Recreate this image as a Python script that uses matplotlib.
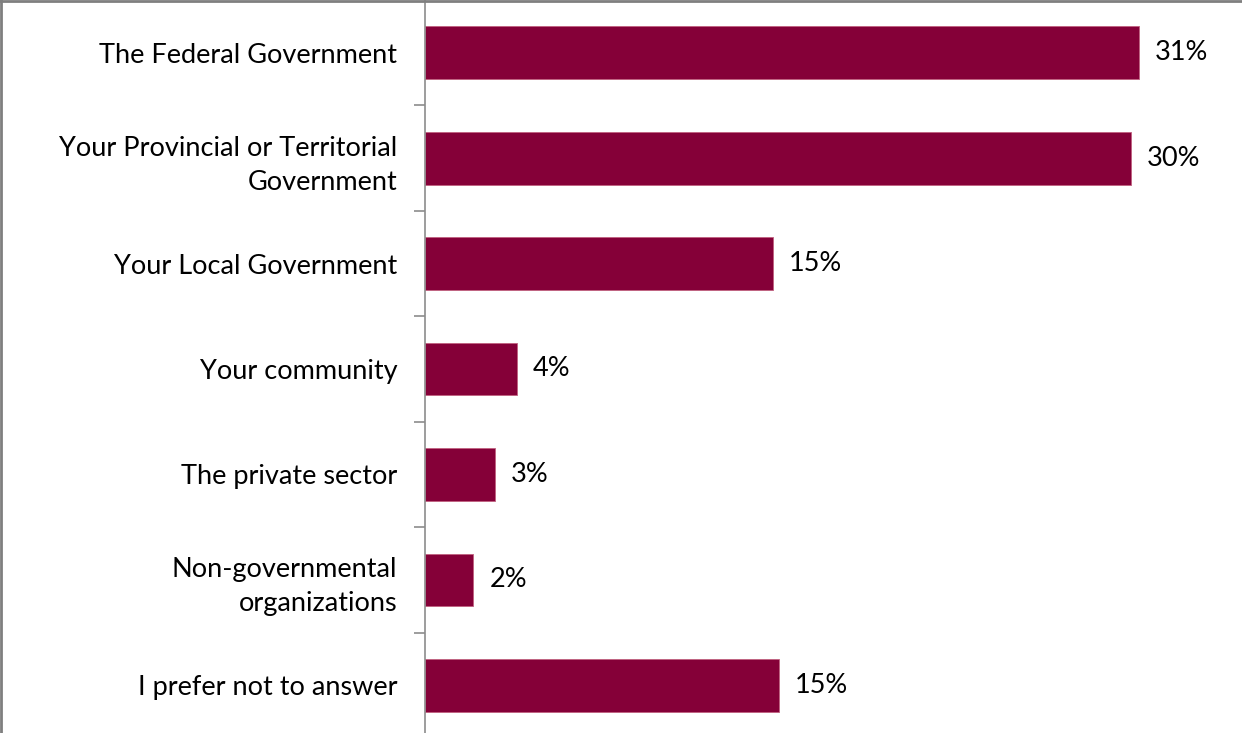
import numpy as np
import matplotlib.pyplot as plt
from matplotlib.lines import Line2D

# data
categories = [
    "The Federal Government",
    "Your Provincial or Territorial\nGovernment",
    "Your Local Government",
    "Your community",
    "The private sector",
    "Non-governmental\norganizations",
    "I prefer not to answer",
]
values = [31.0, 30.65, 15.1, 4.0, 3.05, 2.1, 15.35]
labels = ["31%", "30%", "15%", "4%", "3%", "2%", "15%"]

BAR_COLOR = "#850038"
AXIS_COLOR = "#8c8c8c"
FS = 19.5

plt.rcParams["font.family"] = ["Lato", "DejaVu Sans"]

fig = plt.figure(figsize=(12.42, 7.33), dpi=100)
# plot area runs a few pixels past the bottom edge, as in the original
ax = fig.add_axes([425 / 1242, -5 / 733, 1 - 425 / 1242, 738 / 733])

y = np.arange(len(categories))
ax.barh(y, values, height=0.5, color=BAR_COLOR, edgecolor="#c0607f", linewidth=0.6)

ax.set_ylim(len(categories) - 0.5, -0.5)
ax.set_xlim(0, (1242 - 425) / 23.03)

for yi, v, lab in zip(y, values, labels):
    ax.annotate(lab, (v, yi), xytext=(11.5, 0), textcoords="offset points",
                va="center", ha="left", fontsize=FS, color="black")

# category labels, ticks sit on the boundaries between bars
ax.set_yticks(y)
ax.set_yticklabels(categories, fontsize=FS, ha="right", linespacing=1.45)
ax.tick_params(axis="y", which="major", length=0, pad=20)
ax.set_yticks(np.arange(0.5, len(categories) - 0.5, 1), minor=True)
ax.tick_params(axis="y", which="minor", length=8, width=1.2, color=AXIS_COLOR)

ax.set_xticks([])
for s in ["top", "right", "bottom"]:
    ax.spines[s].set_visible(False)
ax.spines["left"].set_color(AXIS_COLOR)
ax.spines["left"].set_linewidth(1.2)

# outer frame (top and left edges visible)
fig.add_artist(Line2D([0, 1], [0.999, 0.999], transform=fig.transFigure, color="#7f7f7f", lw=2))
fig.add_artist(Line2D([0.001, 0.001], [0, 1], transform=fig.transFigure, color="#7f7f7f", lw=2))

fig.savefig("out.png", dpi=100)
